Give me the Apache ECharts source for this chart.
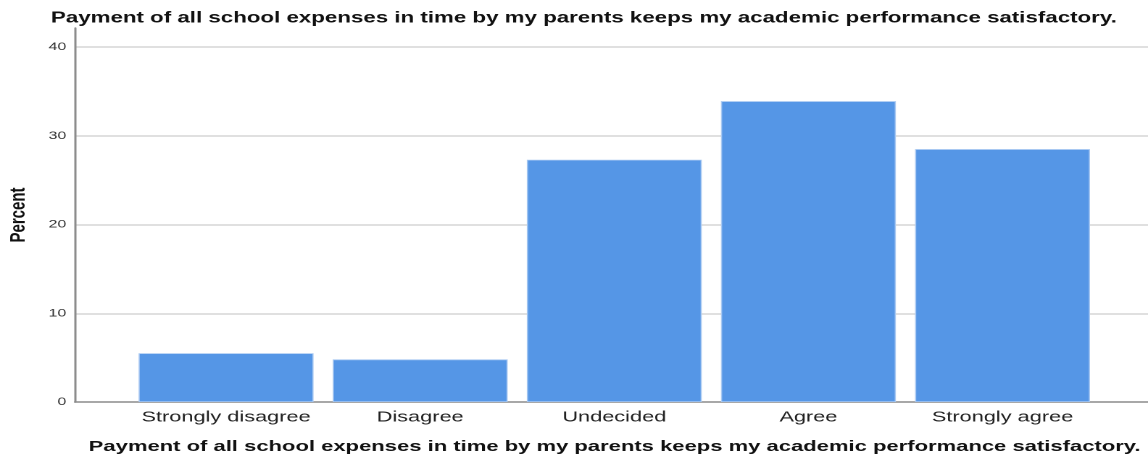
<!DOCTYPE html>
<html><head><meta charset="utf-8">
<script src="https://cdn.jsdelivr.net/npm/echarts@6/dist/echarts.min.js"></script>
<style>
html,body{margin:0;padding:0;background:#fff;overflow:hidden}
#wrap{width:1148px;height:462px;overflow:hidden}
#c{width:792px;height:462px;transform:scaleX(1.4495);transform-origin:0 0}
</style>
</head><body><div id="wrap"><div id="c"></div></div>
<script>
const categories = ["Strongly disagree", "Disagree", "Undecided", "Agree", "Strongly agree"];
const percentValues = [5.5, 4.8, 27.3, 33.9, 28.5];
const yTicks = [0, 10, 20, 30, 40];
const chartTitle = "Payment of all school expenses in time by my parents keeps my academic performance satisfactory.";
const yLabel = "Percent";

const chart = echarts.init(document.getElementById('c'), null, {renderer: 'canvas', devicePixelRatio: 2});
const YMAX = 40 * 374 / 355;
const FONT = '"Liberation Sans", Arial, sans-serif';
chart.setOption({
  animation: false,
  backgroundColor: '#fff',
  grid: [
    {left: 51.7, right: 0, top: 28, bottom: 60},
    {left: 89, right: 33.4, top: 28, bottom: 60}
  ],
  xAxis: [
    {gridIndex: 0, type: 'category', data: [''], boundaryGap: true,
     axisLine: {lineStyle: {color: '#8c8c8c', width: 1.5}}, axisTick: {show: false}, axisLabel: {show: false}},
    {gridIndex: 1, type: 'category', data: categories,
     axisLine: {show: false}, axisTick: {show: false},
     axisLabel: {interval: 0, hideOverlap: false, fontSize: 15, color: '#222', margin: 8, fontFamily: FONT}}
  ],
  yAxis: [
    {gridIndex: 0, type: 'value', min: 0, max: YMAX, interval: 10,
     axisLine: {show: true, lineStyle: {color: '#8c8c8c', width: 1.5}}, axisTick: {show: false},
     axisLabel: {fontSize: 11, color: '#333', margin: 6, fontFamily: FONT,
       showMaxLabel: false,
       formatter: v => (yTicks.indexOf(v) >= 0 ? String(v) : '')},
     splitLine: {show: true, showMaxLine: false, showMinLine: false, lineStyle: {color: '#d6d6d6', width: 1.5}}},
    {gridIndex: 1, type: 'value', min: 0, max: YMAX, show: false, splitLine: {show: false}}
  ],
  series: [{
    type: 'bar', xAxisIndex: 1, yAxisIndex: 1,
    data: percentValues, barWidth: 120.7,
    itemStyle: {color: '#5596E6', borderColor: '#a9c9f2', borderWidth: 0.8}
  }],
  graphic: [
    {type: 'text', x: 402.8, y: 18, style: {text: chartTitle, font: 'bold 15.4px ' + FONT, fill: '#111', textAlign: 'center', textVerticalAlign: 'middle'}},
    {type: 'text', x: 424, y: 447, style: {text: chartTitle, font: 'bold 15.2px ' + FONT, fill: '#111', textAlign: 'center', textVerticalAlign: 'middle'}},
    {type: 'text', x: 13, y: 215, rotation: Math.PI / 2, style: {text: yLabel, font: 'bold 15px ' + FONT, fill: '#111', textAlign: 'center', textVerticalAlign: 'middle'}}
  ]
});
</script></body></html>
